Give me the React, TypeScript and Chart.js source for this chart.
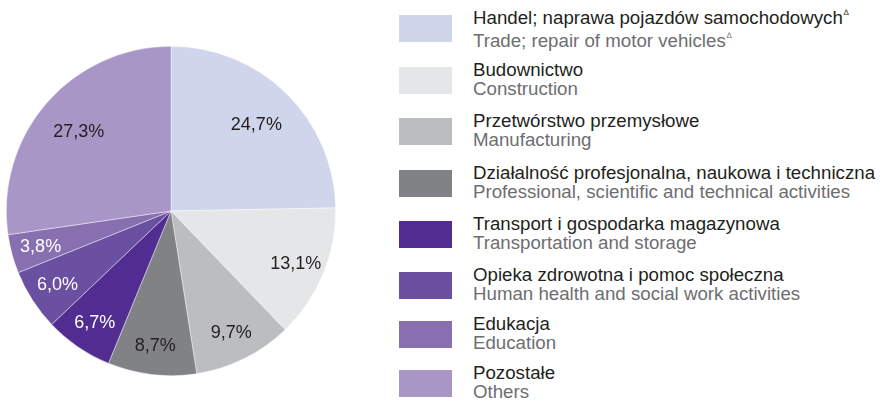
import React, { useEffect, useRef } from "react";
import { Chart, registerables } from "chart.js";

Chart.register(...registerables);

const categoriesPl = [
  "Handel; naprawa pojazdów samochodowych",
  "Budownictwo",
  "Przetwórstwo przemysłowe",
  "Działalność profesjonalna, naukowa i techniczna",
  "Transport i gospodarka magazynowa",
  "Opieka zdrowotna i pomoc społeczna",
  "Edukacja",
  "Pozostałe",
];
const categoriesEn = [
  "Trade; repair of motor vehicles",
  "Construction",
  "Manufacturing",
  "Professional, scientific and technical activities",
  "Transportation and storage",
  "Human health and social work activities",
  "Education",
  "Others",
];
const deltaMark = [true, false, false, false, false, false, false, false];
const shares = [24.7, 13.1, 9.7, 8.7, 6.7, 6.0, 3.8, 27.3];
const colors = [
  "#CFD5EA",
  "#E5E6E8",
  "#BCBDC0",
  "#818285",
  "#512D91",
  "#6B4FA0",
  "#8870B0",
  "#A897C6",
];
const labelColors = ["#231F20", "#231F20", "#231F20", "#231F20", "#FFFFFF", "#FFFFFF", "#FFFFFF", "#231F20"];

// legend layout (pixel tops of each legend row)
const LEGEND_TOPS = [15, 66.7, 118.3, 170, 221, 271.7, 321, 370];

const FONT = '"Liberation Sans", Arial, sans-serif';

const fmt = (v: number) => v.toFixed(1).replace(".", ",") + "%";

const labelPlugin = {
  id: "sliceLabels",
  afterDatasetsDraw(chart: any) {
    const ctx = chart.ctx;
    const meta = chart.getDatasetMeta(0);
    ctx.save();
    ctx.font = `18px ${FONT}`;
    ctx.textAlign = "center";
    ctx.textBaseline = "middle";
    meta.data.forEach((arc: any, i: number) => {
      const { x, y, startAngle, endAngle, outerRadius } = arc.getProps(
        ["x", "y", "startAngle", "endAngle", "outerRadius"],
        true
      );
      const mid = (startAngle + endAngle) / 2;
      const frac = shares[i] > 20 ? 0.74 : 0.82;
      const r = outerRadius * frac;
      ctx.fillStyle = labelColors[i];
      ctx.fillText(fmt(shares[i]), x + Math.cos(mid) * r, y + Math.sin(mid) * r + 1);
    });
    ctx.restore();
  },
};

export default function App() {
  const canvasRef = useRef<HTMLCanvasElement | null>(null);

  useEffect(() => {
    document.body.style.margin = "0";
    const c = canvasRef.current;
    if (!c) return;
    const chart = new Chart(c, {
      type: "pie",
      data: {
        labels: categoriesPl,
        datasets: [
          {
            data: shares,
            backgroundColor: colors,
            borderColor: "rgba(255,255,255,0.7)",
            borderWidth: 0.6,
          },
        ],
      },
      options: {
        animation: false,
        responsive: false,
        maintainAspectRatio: false,
        layout: { padding: { left: 6, right: 6, top: 46, bottom: 26 } },
        plugins: {
          legend: { display: false },
          tooltip: { enabled: false },
        },
      },
      plugins: [labelPlugin],
    });
    return () => chart.destroy();
  }, []);

  return (
    <div
      style={{
        position: "absolute",
        left: 0,
        top: 0,
        width: 882,
        height: 402,
        background: "#fff",
        fontFamily: FONT,
        overflow: "hidden",
      }}
    >
      <canvas
        ref={canvasRef}
        width={342}
        height={402}
        style={{ position: "absolute", left: 0, top: 0, width: 342, height: 402 }}
      />
      {categoriesPl.map((pl, i) => {
        const top = LEGEND_TOPS[i];
        return (
          <div key={i} style={{ position: "absolute", left: 399, top, width: 483 }}>
            <div
              style={{
                position: "absolute",
                left: 0,
                top: 0,
                width: 53,
                height: 27,
                background: colors[i],
              }}
            />
            <div
              style={{
                position: "absolute",
                left: 74,
                top: -7,
                fontSize: 18.7,
                lineHeight: "19px",
                whiteSpace: "nowrap",
              }}
            >
              <div style={{ color: "#231F20" }}>
                {pl}
                {deltaMark[i] ? (
                  <span style={{ fontSize: 8, position: "relative", top: -9, marginLeft: 1, color: "#231F20" }}>∆</span>
                ) : null}
              </div>
              <div style={{ color: "#6D6E71" }}>
                {categoriesEn[i]}
                {deltaMark[i] ? (
                  <span style={{ fontSize: 8, position: "relative", top: -9, marginLeft: 1, color: "#6D6E71" }}>∆</span>
                ) : null}
              </div>
            </div>
          </div>
        );
      })}
    </div>
  );
}
